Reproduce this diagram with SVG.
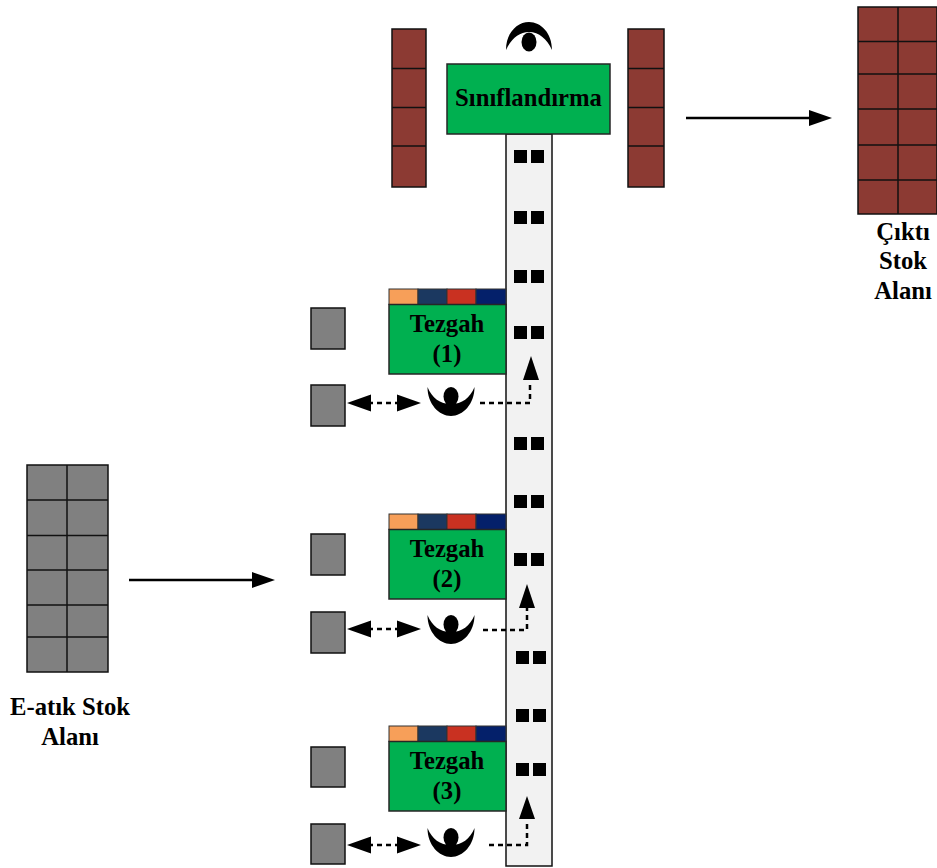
<svg xmlns="http://www.w3.org/2000/svg" width="937" height="868" viewBox="0 0 937 868">
<style>
text{font-family:"Liberation Serif","Times New Roman",serif;font-weight:bold;fill:#000;text-anchor:middle;font-size:24.700px}
.g{fill:#00b050;stroke:#262626;stroke-width:1.5}
.b{fill:#8c3a33;stroke:#111;stroke-width:1.5}
.s{fill:#808080;stroke:#111;stroke-width:1.5}
.k{fill:#000}
.r{fill:none;stroke:#111;stroke-width:1.500}
.d{fill:none;stroke:#000;stroke-width:2.5;stroke-dasharray:5 4}
.a{fill:none;stroke:#000;stroke-width:2.5}
.c1{fill:#f79f59;stroke:#333;stroke-width:1}.c2{fill:#1b3860;stroke:#333;stroke-width:1}.c3{fill:#c93121;stroke:#333;stroke-width:1}.c4{fill:#04206a;stroke:#333;stroke-width:1}
</style>
<defs>
<g id="worker"><path d="M-23.500 -15C-23.500 2 -12 14 0 14C12 14 23.500 2 23.500 -15C19 -4 11 2 0 2C-11 2 -19 -4 -23.500 -15Z" class="k"/><ellipse cx="0" cy="-5.500" rx="7.500" ry="9.500" class="k"/></g>
<g id="bench"><rect x="0" y="0" width="29" height="15.500" class="c1"/><rect x="29" y="0" width="29" height="15.500" class="c2"/><rect x="58" y="0" width="29" height="15.500" class="c3"/><rect x="87" y="0" width="30" height="15.500" class="c4"/><rect x="0" y="15.500" width="117" height="69.500" class="g"/></g>
<g id="pair"><rect x="0" y="0" width="13" height="13" class="k"/><rect x="17" y="0" width="13" height="13" class="k"/></g>
</defs>
<g id="belt"><rect x="506" y="134" width="46" height="732" fill="#f2f2f2" stroke="#111" stroke-width="1.500"/>
<use href="#pair" x="514" y="150"/><use href="#pair" x="514" y="211"/><use href="#pair" x="514" y="270"/><use href="#pair" x="514" y="326"/><use href="#pair" x="514" y="437"/><use href="#pair" x="514" y="495"/><use href="#pair" x="514" y="553"/><use href="#pair" x="516" y="651"/><use href="#pair" x="516" y="709"/><use href="#pair" x="516" y="763"/></g>
<g id="siniflandirma"><rect x="447" y="64" width="163" height="70" class="g"/><text x="528.500" y="106">Sınıflandırma</text></g>
<g id="classifier-worker"><path d="M506 50C506 33 517 22 529 22C541 22 552 33 552 50C547 39 539 32 529 32C519 32 511 39 506 50Z" class="k"/><ellipse cx="529" cy="42" rx="7.500" ry="9.500" class="k"/></g>
<g id="stack-left"><rect x="392" y="29" width="34" height="158" class="b"/><path d="M392 68.500H426M392 107.500H426M392 146H426" class="r"/></g>
<g id="stack-right"><rect x="628" y="29" width="36" height="158" class="b"/><path d="M628 68.500H664M628 107.500H664M628 146H664" class="r"/></g>
<g id="output-stock"><rect x="858" y="7" width="79" height="207" class="b"/><path d="M898 7V214M858 41.500H937M858 74H937M858 109H937M858 145H937M858 180H937" class="r"/><text x="903" y="240">Çıktı</text><text x="903" y="269">Stok</text><text x="903" y="299">Alanı</text></g>
<g id="input-stock"><rect x="27" y="465" width="81" height="207" class="s"/><path d="M67 465V672M27 500H108M27 535.500H108M27 570H108M27 605H108M27 637H108" class="r"/><text x="70" y="715">E-atık Stok</text><text x="70" y="745">Alanı</text></g>
<g id="tezgah-1"><use href="#bench" x="389" y="289"/><text x="447" y="332">Tezgah</text><text x="447" y="362">(1)</text></g>
<g id="tezgah-2"><use href="#bench" x="389" y="514"/><text x="447" y="557">Tezgah</text><text x="447" y="587">(2)</text></g>
<g id="tezgah-3"><use href="#bench" x="389" y="726"/><text x="447" y="769">Tezgah</text><text x="447" y="799">(3)</text></g>
<g id="bins"><rect x="311" y="308" width="34" height="41" class="s"/><rect x="311" y="385" width="34" height="41" class="s"/><rect x="311" y="534" width="34" height="41" class="s"/><rect x="311" y="612" width="34" height="41" class="s"/><rect x="311" y="747" width="34" height="40" class="s"/><rect x="311" y="824" width="34" height="40" class="s"/></g>
<g id="workers"><use href="#worker" x="451" y="402"/><use href="#worker" x="451" y="630"/><use href="#worker" x="451" y="843"/></g>
<g id="connectors">
<path d="M686 118H812M129 580H255" class="a"/>
<path d="M809 110L832 118L809 126ZM252 572L275 580L252 588Z" class="k"/>
<path d="M368 403H400M368 629H400M368 845H400" class="d"/>
<path d="M347 403L371 394.500V411.500ZM421 403L397 394.500V411.500ZM347 629L371 620.500V637.500ZM421 629L397 620.500V637.500ZM347 845L371 836.500V853.500ZM421 845L397 836.500V853.500Z" class="k"/>
<path d="M480 403H530V382M483 630H527V608M489 845H527V822" class="d"/>
<path d="M531 356L539 380H523ZM527 584L535 608H519ZM527 796L535 819H519Z" class="k"/>
</g>
</svg>
